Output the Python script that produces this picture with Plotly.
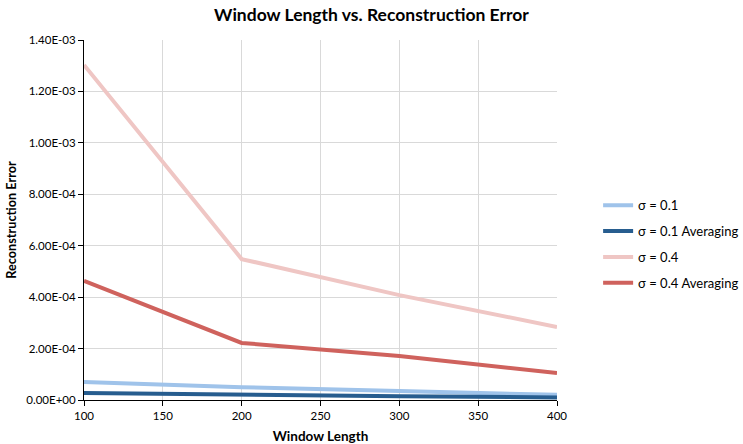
import plotly.graph_objects as go

window = [100, 200, 300, 400]
s01 = [7.0e-5, 5.0e-5, 3.5e-5, 2.0e-5]
s01_avg = [2.7e-5, 2.0e-5, 1.5e-5, 1.0e-5]
s04 = [1.303e-3, 5.48e-4, 4.08e-4, 2.84e-4]
s04_avg = [4.63e-4, 2.22e-4, 1.71e-4, 1.05e-4]

names = ["σ = 0.1", "σ = 0.1 Averaging", "σ = 0.4", "σ = 0.4 Averaging"]
colors = ["#9fc3ea", "#275d8f", "#efc6c4", "#cf625d"]
series = [s01, s01_avg, s04, s04_avg]

ytick_vals = [0, 2e-4, 4e-4, 6e-4, 8e-4, 1e-3, 1.2e-3, 1.4e-3]
ytick_text = ["0.00E+00", "2.00E-04", "4.00E-04", "6.00E-04", "8.00E-04",
              "1.00E-03", "1.20E-03", "1.40E-03"]

fig = go.Figure()
for i, (n, c, s) in enumerate(zip(names, colors, series)):
    fig.add_trace(go.Scatter(x=window, y=s, name=n, mode="lines",
                             legendgroup=f"g{i}",
                             line=dict(color=c, width=4)))

font = "Lato, 'Open Sans', sans-serif"
fig.update_layout(
    width=743, height=444,
    margin=dict(l=84, r=186, t=40, b=44, autoexpand=False),
    paper_bgcolor="white", plot_bgcolor="white",
    font=dict(family=font, size=11, color="#000"),
    title=dict(text="<b>Window Length vs. Reconstruction Error</b>",
               x=0.5, xanchor="center", y=0.98, yanchor="top",
               font=dict(size=17.5, family=font)),
    legend=dict(xref="container", yref="container", x=0.805, y=0.45,
                yanchor="middle", xanchor="left",
                font=dict(size=13), tracegroupgap=6, itemwidth=30),
    xaxis=dict(range=[100, 400], tickvals=[100, 150, 200, 250, 300, 350, 400],
               showgrid=True, gridcolor="#d9d9d9", showline=True,
               linecolor="#000", linewidth=1, ticks="outside", ticklen=5,
               tickcolor="#000", zeroline=False, automargin=False,
               tickfont=dict(size=11.5),
               title=dict(text="<b>Window Length</b>", font=dict(size=13.5), standoff=11)),
    yaxis=dict(range=[0, 1.4e-3], tickvals=ytick_vals, ticktext=ytick_text,
               showgrid=True, gridcolor="#d9d9d9", showline=True,
               linecolor="#000", linewidth=1, ticks="outside", ticklen=5,
               tickcolor="#000", zeroline=False, automargin=False,
               tickfont=dict(size=11.5),
               title=dict(text="<b>Reconstruction Error</b>", font=dict(size=12.7), standoff=6)),
)

fig.write_html("out.html")
